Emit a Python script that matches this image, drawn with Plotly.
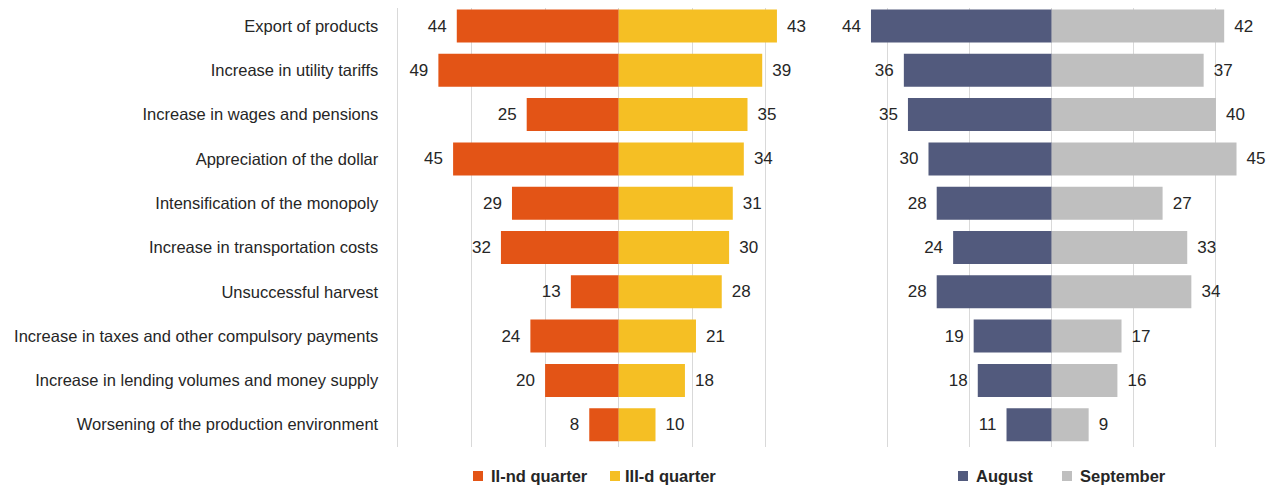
import plotly.graph_objects as go

categories = [
    "Export of products",
    "Increase in utility tariffs",
    "Increase in wages and pensions",
    "Appreciation of the dollar",
    "Intensification of the monopoly",
    "Increase in transportation costs",
    "Unsuccessful harvest",
    "Increase in taxes and other compulsory payments",
    "Increase in lending volumes and money supply",
    "Worsening of the production environment",
]
q2 = [44, 49, 25, 45, 29, 32, 13, 24, 20, 8]
q3 = [43, 39, 35, 34, 31, 30, 28, 21, 18, 10]
august = [44, 36, 35, 30, 28, 24, 28, 19, 18, 11]
september = [42, 37, 40, 45, 27, 33, 34, 17, 16, 9]
legend_names = ["II-nd quarter", "III-d quarter", "August", "September"]

ORANGE = "#E35416"
YELLOW = "#F5BF24"
NAVY = "#525A7D"
GREY = "#BFBFBF"
TXT = "#262626"
FONT = "Liberation Sans, Arial, sans-serif"

# page body has an 8px margin; figure sized to fit the 1280x488 window
W, H = 1272, 480
PLOT_H = 439  # plot area height in px (top margin 0)

GAP = "\u2004\u200a"  # extra spacing between bar end and value label


def bar(vals, neg, name, color, xa, ya):
    return go.Bar(
        y=categories,
        x=[-v if neg else v for v in vals],
        text=[(str(v) + GAP) if neg else (GAP + str(v)) for v in vals],
        textposition="outside",
        textfont=dict(size=17, color=TXT, family=FONT),
        cliponaxis=False,
        orientation="h",
        name=name,
        marker=dict(color=color, line=dict(width=0)),
        width=0.745,
        xaxis=xa,
        yaxis=ya,
        showlegend=False,
        hoverinfo="skip",
    )


fig = go.Figure()
fig.add_trace(bar(q2, True, legend_names[0], ORANGE, "x", "y"))
fig.add_trace(bar(q3, False, legend_names[1], YELLOW, "x", "y"))
fig.add_trace(bar(august, True, legend_names[2], NAVY, "x2", "y2"))
fig.add_trace(bar(september, False, legend_names[3], GREY, "x2", "y2"))

# left panel: center 610.7px, 3.68 px/unit ; right: center 1043.7px, 4.107 px/unit
l_lo, l_hi = -61, 50
r_lo, r_hi = -47, 55
lc, ls = 610.7, 3.68
rc, rs = 1043.7, 4.107
ld = [(lc + l_lo * ls) / W, (lc + l_hi * ls) / W]
rd = [(rc + r_lo * rs) / W, (rc + r_hi * rs) / W]

# category rows: first row centre at 18px, 44.3px per row
row_px = 44.3
y_top = -18 / row_px
y_bot = y_top + PLOT_H / row_px

grid = "#D9D9D9"
fig.update_layout(
    width=W, height=H,
    margin=dict(l=0, r=0, t=0, b=H - PLOT_H, autoexpand=False),
    plot_bgcolor="white", paper_bgcolor="white",
    barmode="relative",
    font=dict(family=FONT, size=16.5, color=TXT),
    showlegend=False,
    xaxis=dict(domain=ld, range=[l_lo, l_hi], tickvals=[-60, -40, -20, 0, 20, 40],
               showticklabels=False, showgrid=True, gridcolor=grid, gridwidth=1,
               zeroline=False, showline=False, anchor="y", fixedrange=True),
    xaxis2=dict(domain=rd, range=[r_lo, r_hi], tickvals=[-40, -20, 0, 20, 40],
                showticklabels=False, showgrid=True, gridcolor=grid, gridwidth=1,
                zeroline=False, showline=False, anchor="y2", fixedrange=True),
    yaxis=dict(anchor="x", range=[y_bot, y_top], showgrid=False, zeroline=False,
               ticks="", ticklabelstandoff=15,
               tickfont=dict(size=16.5, color=TXT, family=FONT)),
    yaxis2=dict(anchor="x2", range=[y_bot, y_top], showgrid=False,
                zeroline=False, showticklabels=False),
)


# manual legends (square + bold label), positions in px of the figure
def px_x(p):
    return p / W


def px_y(p):
    return (PLOT_H - p) / PLOT_H


legend_items = [
    (465, 481, ORANGE, legend_names[0]),
    (602, 615, YELLOW, legend_names[1]),
    (950, 966, NAVY, legend_names[2]),
    (1054, 1070, GREY, legend_names[3]),
]
for sq_x, tx, col, name in legend_items:
    fig.add_shape(type="rect", xref="paper", yref="paper",
                  x0=px_x(sq_x), x1=px_x(sq_x + 10), y0=px_y(463), y1=px_y(473),
                  fillcolor=col, line=dict(width=0))
    fig.add_annotation(text=name, xref="paper", yref="paper", x=px_x(tx), y=px_y(468),
                       xanchor="left", yanchor="middle", showarrow=False,
                       font=dict(size=16.5, color=TXT, family=FONT, weight="bold"))

fig.write_html("out.html")
